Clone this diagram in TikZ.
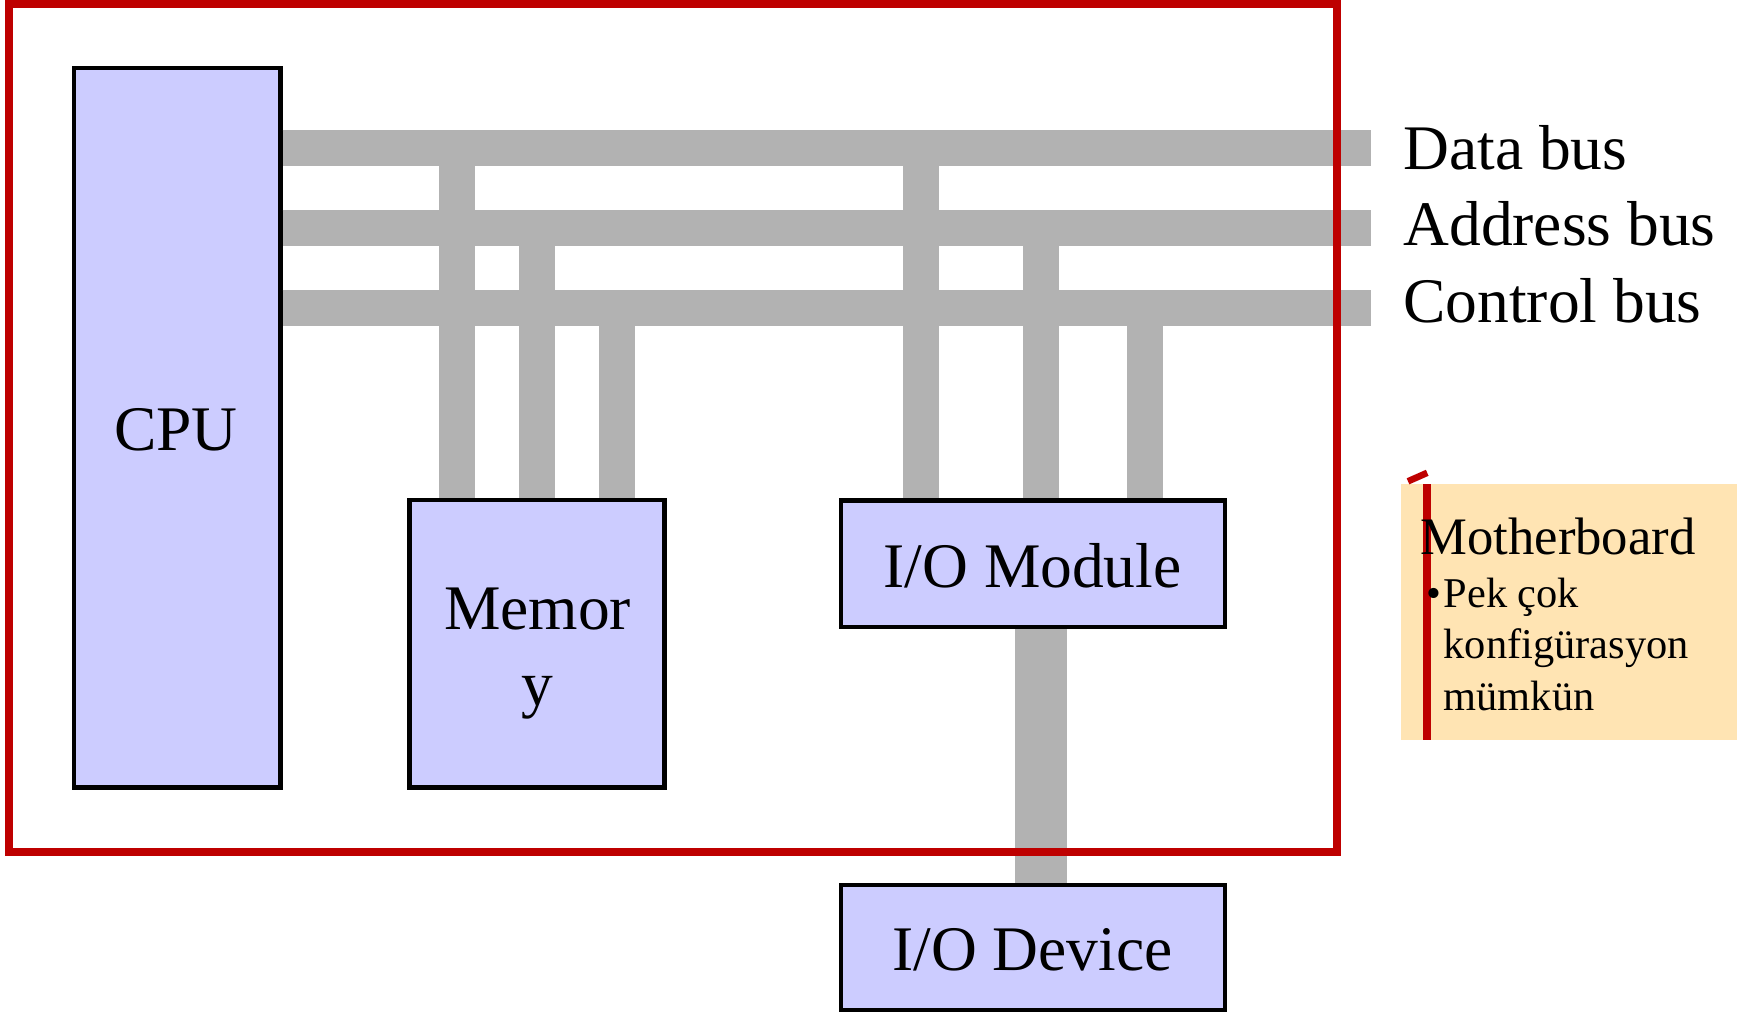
\documentclass[tikz,border=0pt]{standalone}
\usepackage{fontspec}
\setmainfont{Liberation Serif}
\definecolor{unitfill}{HTML}{CCCCFF}
\definecolor{busgray}{HTML}{B2B2B2}
\definecolor{boardred}{HTML}{BE0000}
\definecolor{notefill}{HTML}{FFE4B3}
\begin{document}
\begin{tikzpicture}[x=0.5pt, y=-0.5pt,
  unit/.style={draw=black, fill=unitfill, line width=2.15pt, inner sep=0pt},
  bus/.style={draw=busgray, line width=18pt},
  iolink/.style={draw=busgray, line width=26pt},
  txt/.style={inner sep=0pt, font=\fontsize{31.75}{38}\selectfont},
  notehead/.style={inner sep=0pt, font=\fontsize{26.35}{31.6}\selectfont},
  notetxt/.style={inner sep=0pt, anchor=base west, font=\fontsize{21.2}{25.5}\selectfont}]
\useasboundingbox (0,0) rectangle (1744,1013);

% functional units
\node[unit, minimum width=103.3pt, minimum height=359.8pt] (cpu) at (177.2,427.8) {};
\node[unit, minimum width=127.5pt, minimum height=143.6pt] (mem) at (537,643.9) {};
\node[unit, minimum width=192pt, minimum height=63.4pt] (iom) at (1033,563.9) {};
\node[unit, minimum width=192pt, minimum height=62.8pt] (iod) at (1033,947.5) {};

% system buses
\coordinate (dbus) at (1370.7,148);
\coordinate (abus) at (1370.7,228);
\coordinate (cbus) at (1370.7,308);
\draw[bus] (cpu.east |- dbus) -- (dbus);
\draw[bus] (cpu.east |- abus) -- (abus);
\draw[bus] (cpu.east |- cbus) -- (cbus);

% bus taps down to memory and I/O module
\foreach \x/\b/\n in {457/dbus/mem, 537/abus/mem, 617/cbus/mem,
                      921/dbus/iom, 1041/abus/iom, 1145/cbus/iom} {
  \path (\x,0) coordinate (tp);
  \draw[bus] (tp |- \b) -- (tp |- \n.north);
}

% link from I/O module to device
\coordinate (lk) at (1041,0);
\draw[iolink] (lk |- iom.south) -- (lk |- iod.north);

% motherboard outline
\draw[boardred, line width=4pt] (8.6,3.9) rectangle (1337,852);

% labels
\node[txt, anchor=base west] (dlab) at (1403,169) {Data bus};
\node[txt, anchor=base west] (alab) at (1403,245.7) {Address bus};
\node[txt, anchor=base west] (clab) at (1403,322.7) {Control bus};
\node[txt, anchor=base] (cputxt) at (176,450.7) {CPU};
\node[txt, anchor=base] (memtxta) at (537.5,629) {Memor};
\node[txt, anchor=base] (memtxtb) at (537,705) {y};
\node[txt, anchor=base] (iomtxt) at (1032.5,587) {I/O Module};
\node[txt, anchor=base] (iodtxt) at (1032.5,970) {I/O Device};

% side note
\fill[notefill] (1401,484) rectangle (1737,740);
\draw[boardred, line width=3.85pt] (1427,484) -- (1427,740);
\draw[boardred, line width=3.3pt] (1408,481.3) -- (1427.2,472.8);
\node[notehead, anchor=base west] (mb) at (1420,554) {Motherboard};
\node[notetxt, anchor=base east] (bul) at (1442,607.7) {•};
\node[notetxt] (na) at (1443.3,607.7) {Pek çok};
\node[notetxt] (nb) at (1443.3,658.3) {konfigürasyon};
\node[notetxt] (nc) at (1443.3,710.7) {mümkün};
\end{tikzpicture}
\end{document}
